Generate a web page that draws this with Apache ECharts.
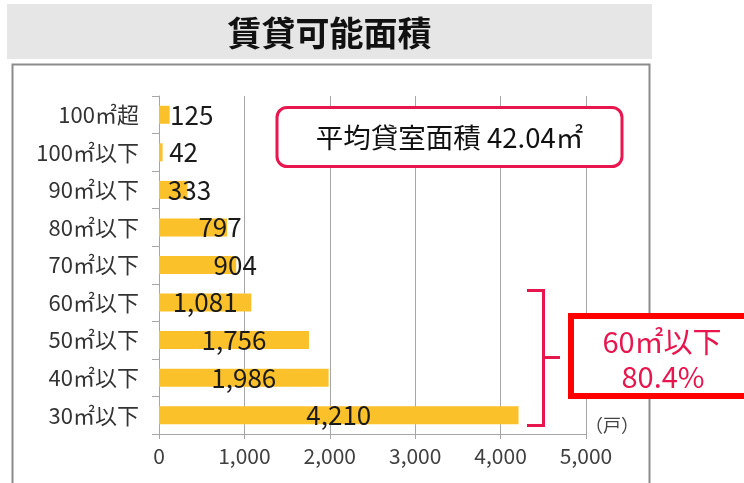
<!DOCTYPE html>
<html>
<head>
<meta charset="utf-8">
<script src="https://cdn.jsdelivr.net/npm/echarts@6/dist/echarts.min.js"></script>
<style>
html,body{margin:0;padding:0;background:#fff;}
#c{width:744px;height:483px;}
</style>
</head>
<body>
<div id="c"></div>
<script>
// ---- data ----
var categories = ['30㎡以下', '40㎡以下', '50㎡以下', '60㎡以下', '70㎡以下', '80㎡以下', '90㎡以下', '100㎡以下', '100㎡超'];
var units = [4210, 1986, 1756, 1081, 904, 797, 333, 42, 125];
var xTicks = [0, 1000, 2000, 3000, 4000, 5000];
var titleText = '賃貸可能面積';
var avgText = '平均貸室面積 42.04㎡';
var shareLines = ['60㎡以下', '80.4%'];
var unitText = '（戸）';

// ---- label styling (null = centred inside bar; number = offset from bar end) ----
var labelEndOffsets = [null, null, null, null, -1, -7, 2, 21, 22];

var FONT = '"Noto Sans CJK JP", "Noto Sans", sans-serif';
var PINK = '#e8164f';

var chart = echarts.init(document.getElementById('c'), null, {renderer: 'canvas'});

var barData = units.map(function (v, i) {
  var off = labelEndOffsets[i];
  var lbl = off === null
    ? {position: 'inside'}
    : {position: ['100%', '50%'], align: 'center', verticalAlign: 'middle', offset: [off, 0]};
  return {value: v, label: lbl};
});

function fmt(v) { return String(v).replace(/\B(?=(\d{3})+(?!\d))/g, ','); }

chart.setOption({
  animation: false,
  textStyle: {fontFamily: FONT},
  grid: {left: 159, right: 158, top: 96, bottom: 49},
  xAxis: {
    type: 'value',
    min: xTicks[0],
    max: xTicks[xTicks.length - 1],
    interval: xTicks[1] - xTicks[0],
    axisLine: {show: true, lineStyle: {color: '#a6a6a6', width: 1}},
    axisTick: {show: true, length: 5, lineStyle: {color: '#a6a6a6'}},
    splitLine: {show: true, lineStyle: {color: '#a6a6a6', width: 1}},
    axisLabel: {
      formatter: function (v) { return fmt(v); },
      color: '#404040', fontSize: 21, margin: 12, fontFamily: FONT
    }
  },
  yAxis: {
    type: 'category',
    data: categories,
    axisLine: {show: true, lineStyle: {color: '#a6a6a6', width: 1}},
    axisTick: {show: true, length: 7, inside: false, alignWithLabel: false, lineStyle: {color: '#a6a6a6'}},
    axisLabel: {color: '#333', fontSize: 22, margin: 20, fontFamily: FONT}
  },
  series: [{
    type: 'bar',
    data: barData,
    barWidth: 18,
    itemStyle: {color: '#FBC12B'},
    label: {
      show: true,
      fontSize: 26,
      color: '#1a1a1a',
      fontFamily: FONT,
      formatter: function (p) { return fmt(p.value); }
    },
    z: 3
  }],
  graphic: [
    // title band
    {type: 'rect', z: -10, shape: {x: 7, y: 4, width: 645, height: 55}, style: {fill: '#e6e6e6'}},
    {type: 'text', z: 10, x: 329.5, y: 33, style: {text: titleText, fill: '#111', font: 'bold 34px ' + FONT, textAlign: 'center', textVerticalAlign: 'middle'}},
    // frame
    {type: 'rect', z: -10, shape: {x: 12.5, y: 64.5, width: 637, height: 440}, style: {fill: 'none', stroke: '#8c8c8c', lineWidth: 2}},
    // average box
    {type: 'rect', z: 20, shape: {x: 277, y: 107.5, width: 345, height: 59, r: 10}, style: {fill: '#fff', stroke: PINK, lineWidth: 3}},
    {type: 'text', z: 21, x: 449.5, y: 138, style: {text: avgText, fill: '#111', font: '27.5px ' + FONT, textAlign: 'center', textVerticalAlign: 'middle'}},
    // bracket
    {type: 'polyline', z: 20, shape: {points: [[527, 290.5], [543.5, 290.5], [543.5, 425.5], [527, 425.5]]}, style: {stroke: PINK, lineWidth: 3, fill: 'none'}},
    {type: 'line', z: 20, shape: {x1: 543.5, y1: 357.5, x2: 560, y2: 357.5}, style: {stroke: PINK, lineWidth: 3}},
    // share box
    {type: 'rect', z: 30, shape: {x: 571, y: 316, width: 190, height: 80}, style: {fill: '#fff', stroke: '#ff0000', lineWidth: 6}},
    {type: 'text', z: 31, x: 662, y: 342, style: {text: shareLines[0], fill: PINK, font: '29px ' + FONT, textAlign: 'center', textVerticalAlign: 'middle'}},
    {type: 'text', z: 31, x: 663, y: 377, style: {text: shareLines[1], fill: PINK, font: '29px ' + FONT, textAlign: 'center', textVerticalAlign: 'middle'}},
    // unit
    {type: 'text', z: 10, x: 585, y: 425, style: {text: unitText, fill: '#444', font: '18px ' + FONT, textAlign: 'left', textVerticalAlign: 'middle'}}
  ]
});
</script>
</body>
</html>
